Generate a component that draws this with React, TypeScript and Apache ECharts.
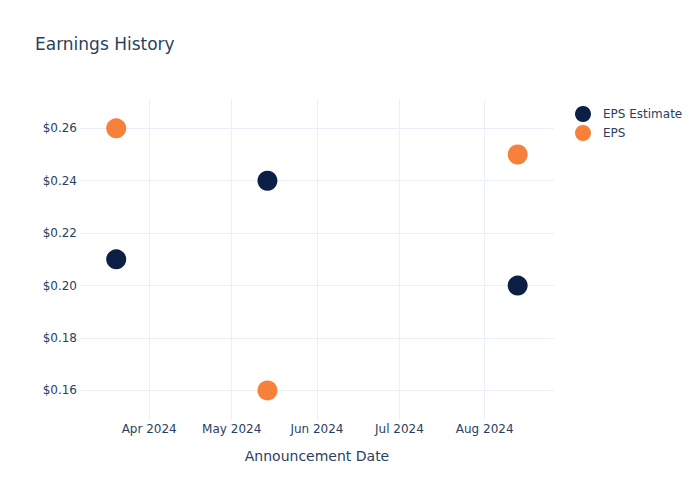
import React, { useEffect, useRef } from "react";
import * as echarts from "echarts";

const dates = [new Date(2024, 2, 20).getTime(), new Date(2024, 4, 14).getTime(), new Date(2024, 7, 13).getTime()];
const epsEstimate = [0.21, 0.24, 0.2];
const eps = [0.26, 0.16, 0.25];
const monthTicks = [
  new Date(2024, 3, 1).getTime(),
  new Date(2024, 4, 1).getTime(),
  new Date(2024, 5, 1).getTime(),
  new Date(2024, 6, 1).getTime(),
  new Date(2024, 7, 1).getTime(),
];
const yTicks = [0.16, 0.18, 0.2, 0.22, 0.24, 0.26];
const monthNames = ["Jan", "Feb", "Mar", "Apr", "May", "Jun", "Jul", "Aug", "Sep", "Oct", "Nov", "Dec"];

const TEXT = "#2a3f5f";
const GRID = "#ebf0f8";
const FONT = "DejaVu Sans";

export default function App() {
  const ref = useRef<HTMLDivElement>(null);
  useEffect(() => {
    if (!ref.current) return;
    const chart = echarts.init(ref.current, undefined, { renderer: "svg" });
    const xMin = new Date(2024, 2, 6, 20).getTime();
    const xMax = new Date(2024, 7, 26, 5).getTime();
    chart.setOption({
      animation: false,
      backgroundColor: "#fff",
      textStyle: { fontFamily: FONT },
      title: {
        text: "Earnings History",
        left: 35,
        top: 35,
        padding: 0,
        textStyle: { fontFamily: FONT, fontSize: 17, fontWeight: "normal", color: TEXT },
      },
      legend: {
        orient: "vertical",
        left: 575,
        top: 106,
        padding: 0,
        icon: "circle",
        itemWidth: 16,
        itemHeight: 16,
        itemGap: 3,
        textStyle: { fontFamily: FONT, fontSize: 12, color: TEXT, padding: [0, 0, 0, 7] },
        data: ["EPS Estimate", "EPS"],
      },
      grid: { left: 80, right: 146, top: 100, bottom: 80, containLabel: false },
      xAxis: {
        type: "value",
        min: xMin,
        max: xMax,
        name: "Announcement Date",
        nameLocation: "middle",
        nameGap: 29,
        nameTextStyle: { fontFamily: FONT, fontSize: 14, color: TEXT },
        axisLine: { show: false },
        axisTick: { show: false, customValues: monthTicks },
        axisLabel: {
          customValues: monthTicks,
          fontFamily: FONT,
          fontSize: 12,
          color: TEXT,
          margin: 3,
          formatter: (v: number) => {
            const d = new Date(v);
            return `${monthNames[d.getMonth()]} ${d.getFullYear()}`;
          },
        },
        splitLine: { show: true, lineStyle: { color: GRID, width: 1 } },
      },
      yAxis: {
        type: "value",
        min: 0.1487,
        max: 0.2708,
        axisLine: { show: false },
        axisTick: { show: false, customValues: yTicks },
        axisLabel: {
          customValues: yTicks,
          fontFamily: FONT,
          fontSize: 12,
          color: TEXT,
          margin: 3,
          formatter: (v: number) => "$" + v.toFixed(2),
        },
        splitLine: { show: true, lineStyle: { color: GRID, width: 1 } },
      },
      series: [
        {
          name: "EPS Estimate",
          type: "scatter",
          symbolSize: 20,
          itemStyle: { color: "#0c1f44", opacity: 1 },
          data: dates.map((d, i) => [d, epsEstimate[i]]),
        },
        {
          name: "EPS",
          type: "scatter",
          symbolSize: 20,
          itemStyle: { color: "#f7813a", opacity: 1 },
          data: dates.map((d, i) => [d, eps[i]]),
        },
      ],
    });
    return () => chart.dispose();
  }, []);
  return <div ref={ref} style={{ width: 700, height: 500, position: "absolute", left: 0, top: 0 }} />;
}
